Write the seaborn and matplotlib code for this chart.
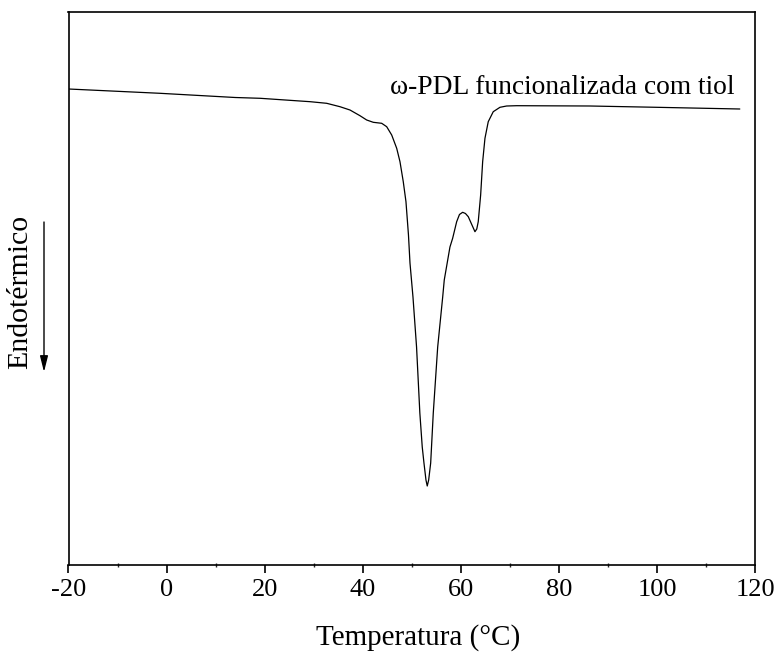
import matplotlib
matplotlib.use("Agg")
import matplotlib.pyplot as plt
import seaborn as sns
import pandas as pd
from matplotlib.ticker import MultipleLocator

temperature = [-20.0, -1.34, 14.0, 19.11, 29.3, 32.65, 35.36, 37.40, 39.44, 40.81, 42.15,
               43.87, 44.89, 45.91, 46.93, 47.60, 48.27, 48.82, 49.33, 49.64, 50.25,
               50.98, 51.65, 52.14, 52.49, 52.90, 53.16, 53.45, 53.86, 54.39, 55.29,
               56.31, 56.63, 57.79, 58.34, 59.16, 59.73, 60.38, 60.95, 61.53, 62.28,
               62.89, 63.26, 63.56, 64.05, 64.46, 64.93, 65.60, 66.62, 67.99, 69.35,
               71.40, 86.34, 99.94, 116.9]
heat_flow = [4.76, 4.717, 4.675, 4.667, 4.633, 4.617, 4.583, 4.55, 4.493, 4.45, 4.427,
             4.417, 4.383, 4.30, 4.167, 4.033, 3.833, 3.633, 3.30, 3.02, 2.68,
             2.18, 1.52, 1.18, 1.02, 0.85, 0.79, 0.85, 1.02, 1.52, 2.18,
             2.68, 2.85, 3.18, 3.267, 3.433, 3.505, 3.527, 3.515, 3.483, 3.40,
             3.333, 3.36, 3.433, 3.70, 4.033, 4.267, 4.433, 4.533, 4.577, 4.59,
             4.593, 4.59, 4.577, 4.56]
x_ticks = [-20, 0, 20, 40, 60, 80, 100, 120]
x_label = "Temperatura (°C)"
y_label = "Endotérmico"
annotation = "ω-PDL funcionalizada com tiol"

df = pd.DataFrame({"T": temperature, "H": heat_flow})

sns.set_theme(style="ticks")
plt.rcParams["font.family"] = ["Liberation Serif", "DejaVu Serif"]

fig = plt.figure(figsize=(7.77, 6.54), dpi=100)
ax = fig.add_axes([68.5 / 777, 89 / 654, (755 - 68.5) / 777, (565 - 12) / 654])

sns.lineplot(data=df, x="T", y="H", ax=ax, color="black", linewidth=0.9, sort=False)

ax.set_xlim(-20, 120)
ax.set_ylim(0, 5.53)
ax.set_xticks(x_ticks)
ax.set_xticklabels([str(t) for t in x_ticks])
ax.xaxis.set_minor_locator(MultipleLocator(10))
ax.set_yticks([])
ax.set_xlabel("")
ax.set_ylabel("")

for s in ax.spines.values():
    s.set_visible(True)
    s.set_linewidth(1.2)
    s.set_color("black")

ax.tick_params(axis="x", which="major", direction="out", length=6, width=1.2,
               labelsize=19, pad=4, colors="black")
ax.tick_params(axis="x", which="minor", direction="inout", length=3, width=1.0)

ax.text(45.6, 4.77, annotation, fontsize=19.8, ha="left", va="center", color="black")

fig.text(418.5 / 777, 1 - 638 / 654, x_label, fontsize=21,
         ha="center", va="center", color="black")
fig.text(20 / 777, 1 - 292 / 654, y_label, fontsize=21.5, rotation=90,
         ha="center", va="center", color="black")
ax.annotate("", xy=(44 / 777, 1 - 372 / 654), xytext=(44 / 777, 1 - 222 / 654),
            xycoords="figure fraction", textcoords="figure fraction",
            arrowprops=dict(arrowstyle="-|>,head_length=0.8,head_width=0.2",
                            color="black", lw=1.0, shrinkA=0, shrinkB=0))

fig.savefig("out.png", dpi=100)
